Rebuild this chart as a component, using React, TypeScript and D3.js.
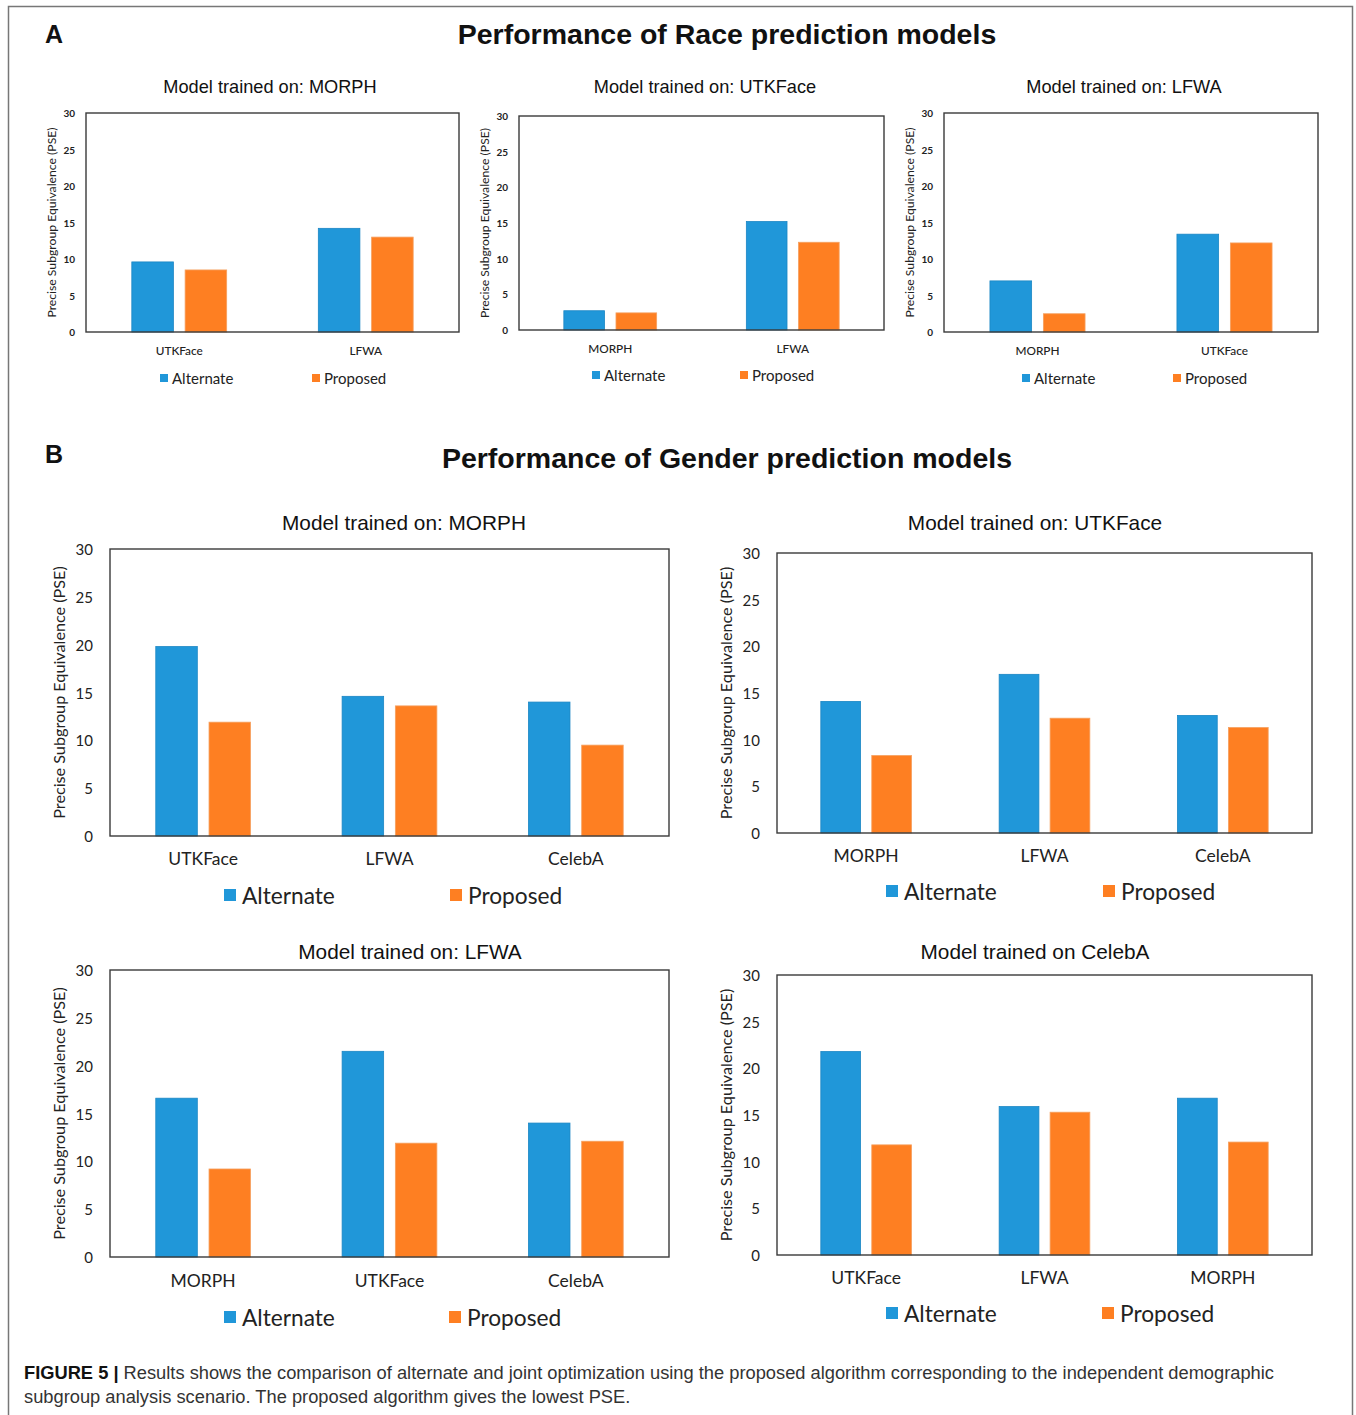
import React from 'react';
import * as d3 from 'd3';

// ---- data ----
const series = ['Alternate', 'Proposed'];
const yTicks = [0, 5, 10, 15, 20, 25, 30];

const raceTitles = ['Model trained on: MORPH', 'Model trained on: UTKFace', 'Model trained on: LFWA'];
const raceCategories = [['UTKFace', 'LFWA'], ['MORPH', 'LFWA'], ['MORPH', 'UTKFace']];
const raceAlternate = [[9.6, 14.2], [2.7, 15.2], [7.0, 13.4]];
const raceProposed = [[8.5, 13.0], [2.4, 12.3], [2.5, 12.2]];

const genderTitles = ['Model trained on: MORPH', 'Model trained on: UTKFace', 'Model trained on: LFWA', 'Model trained on CelebA'];
const genderCategories = [
  ['UTKFace', 'LFWA', 'CelebA'],
  ['MORPH', 'LFWA', 'CelebA'],
  ['MORPH', 'UTKFace', 'CelebA'],
  ['UTKFace', 'LFWA', 'MORPH'],
];
const genderAlternate = [[19.8, 14.6, 14.0], [14.1, 17.0, 12.6], [16.6, 21.5, 14.0], [21.8, 15.9, 16.8]];
const genderProposed = [[11.9, 13.6, 9.5], [8.3, 12.3, 11.3], [9.2, 11.9, 12.1], [11.8, 15.3, 12.1]];

const colors = ['#2097d9', '#fe7f22'];
const chartFont = 'Lato, "Open Sans", sans-serif';
const headFont = '"Liberation Sans", Arial, sans-serif';

// ---- layout ----
const small = { tick: 10, tickW: 700, ylab: 12.2, cat: 11.8, catW: 500, legend: 15, title: 18.2, sq: 8, tickDx: 11, ylabDx: 35 };
const large = { tick: 15, tickW: 400, ylab: 16.2, cat: 17.5, catW: 400, legend: 22.7, title: 20.8, sq: 12, tickDx: 17, ylabDx: 52 };

const racePanels = [
  { x: 86, y: 113, w: 373, h: 219, tx: 270, ty: 87, cy: 350, ly: 378, lx: [160, 312] },
  { x: 519, y: 116, w: 365, h: 214, tx: 705, ty: 87, cy: 348, ly: 375, lx: [592, 740] },
  { x: 944, y: 113, w: 374, h: 219, tx: 1124, ty: 87, cy: 350, ly: 378, lx: [1022, 1173] },
];
const genderPanels = [
  { x: 110, y: 549, w: 559, h: 287, tx: 404, ty: 522, cy: 858, ly: 895, lx: [224, 450] },
  { x: 777, y: 553, w: 535, h: 280, tx: 1035, ty: 522, cy: 855, ly: 891, lx: [886, 1103] },
  { x: 110, y: 970, w: 559, h: 287, tx: 410, ty: 951, cy: 1280, ly: 1317, lx: [224, 449] },
  { x: 777, y: 975, w: 535, h: 280, tx: 1035, ty: 951, cy: 1277, ly: 1313, lx: [886, 1102] },
];

function Panel({ p, title, cats, alt, prop, s }) {
  const x0 = d3.scaleBand().domain(cats).range([p.x, p.x + p.w]);
  const x1 = d3.scaleBand().domain(series).range([0, x0.bandwidth()]).paddingInner(0.22).paddingOuter(0.86);
  const y = d3.scaleLinear().domain([0, 30]).range([p.y + p.h, p.y]);
  const vals = [alt, prop];
  return (
    <g>
      <text x={p.tx} y={p.ty} textAnchor="middle" dominantBaseline="central" fontFamily={headFont} fontSize={s.title} fill="#111">
        {title}
      </text>
      {cats.map((c, i) =>
        series.map((sr, j) => (
          <rect
            key={c + sr}
            x={x0(c) + x1(sr)}
            y={y(vals[j][i])}
            width={x1.bandwidth()}
            height={y(0) - y(vals[j][i])}
            fill={colors[j]}
            stroke={j === 0 ? '#1b86c4' : '#f5a060'}
            strokeWidth={0.8}
          />
        ))
      )}
      <rect x={p.x} y={p.y} width={p.w} height={p.h} fill="none" stroke="#3a3a3a" strokeWidth={1.4} />
      {yTicks.map((t) => (
        <text key={t} x={p.x - s.tickDx} y={y(t)} textAnchor="end" dominantBaseline="central"
          fontFamily={chartFont} fontSize={s.tick} fontWeight={s.tickW} fill="#222">
          {t}
        </text>
      ))}
      <text transform={`translate(${p.x - s.ylabDx},${p.y + p.h / 2}) rotate(-90)`} textAnchor="middle"
        dominantBaseline="central" fontFamily={chartFont} fontSize={s.ylab} fill="#222">
        Precise Subgroup Equivalence (PSE)
      </text>
      {cats.map((c) => (
        <text key={c} x={x0(c) + x0.bandwidth() / 2} y={p.cy} textAnchor="middle" dominantBaseline="central"
          fontFamily={chartFont} fontSize={s.cat} fontWeight={s.catW} fill="#222">
          {c}
        </text>
      ))}
      {series.map((sr, j) => (
        <g key={sr}>
          <rect x={p.lx[j]} y={p.ly - s.sq / 2} width={s.sq} height={s.sq} fill={colors[j]} />
          <text x={p.lx[j] + s.sq + s.sq * 0.5} y={p.ly} dominantBaseline="central"
            fontFamily={chartFont} fontSize={s.legend} fill="#222">
            {sr}
          </text>
        </g>
      ))}
    </g>
  );
}

export default function App() {
  return (
    <svg width={1356} height={1415} style={{ position: 'absolute', left: 0, top: 0, background: '#fff' }}>
      <rect x={8.5} y={6.5} width={1344} height={1420} fill="none" stroke="#777" strokeWidth={1.5} />
      <text x={45} y={43} fontFamily={headFont} fontWeight="bold" fontSize={25} fill="#111">A</text>
      <text x={727} y={44} textAnchor="middle" fontFamily={headFont} fontWeight="bold" fontSize={28.5} fill="#111">
        Performance of Race prediction models
      </text>
      {racePanels.map((p, i) => (
        <Panel key={'r' + i} p={p} title={raceTitles[i]} cats={raceCategories[i]} alt={raceAlternate[i]} prop={raceProposed[i]} s={small} />
      ))}
      <text x={45} y={463} fontFamily={headFont} fontWeight="bold" fontSize={25} fill="#111">B</text>
      <text x={727} y={468} textAnchor="middle" fontFamily={headFont} fontWeight="bold" fontSize={28.5} fill="#111">
        Performance of Gender prediction models
      </text>
      {genderPanels.map((p, i) => (
        <Panel key={'g' + i} p={p} title={genderTitles[i]} cats={genderCategories[i]} alt={genderAlternate[i]} prop={genderProposed[i]} s={large} />
      ))}
      <text x={24} y={1379} fontFamily={headFont} fontSize={18.3} fill="#333">
        <tspan fontWeight="bold" fill="#111">FIGURE 5 | </tspan>
        Results shows the comparison of alternate and joint optimization using the proposed algorithm corresponding to the independent demographic
      </text>
      <text x={24} y={1403} fontFamily={headFont} fontSize={18.3} fill="#333">
        subgroup analysis scenario. The proposed algorithm gives the lowest PSE.
      </text>
    </svg>
  );
}
